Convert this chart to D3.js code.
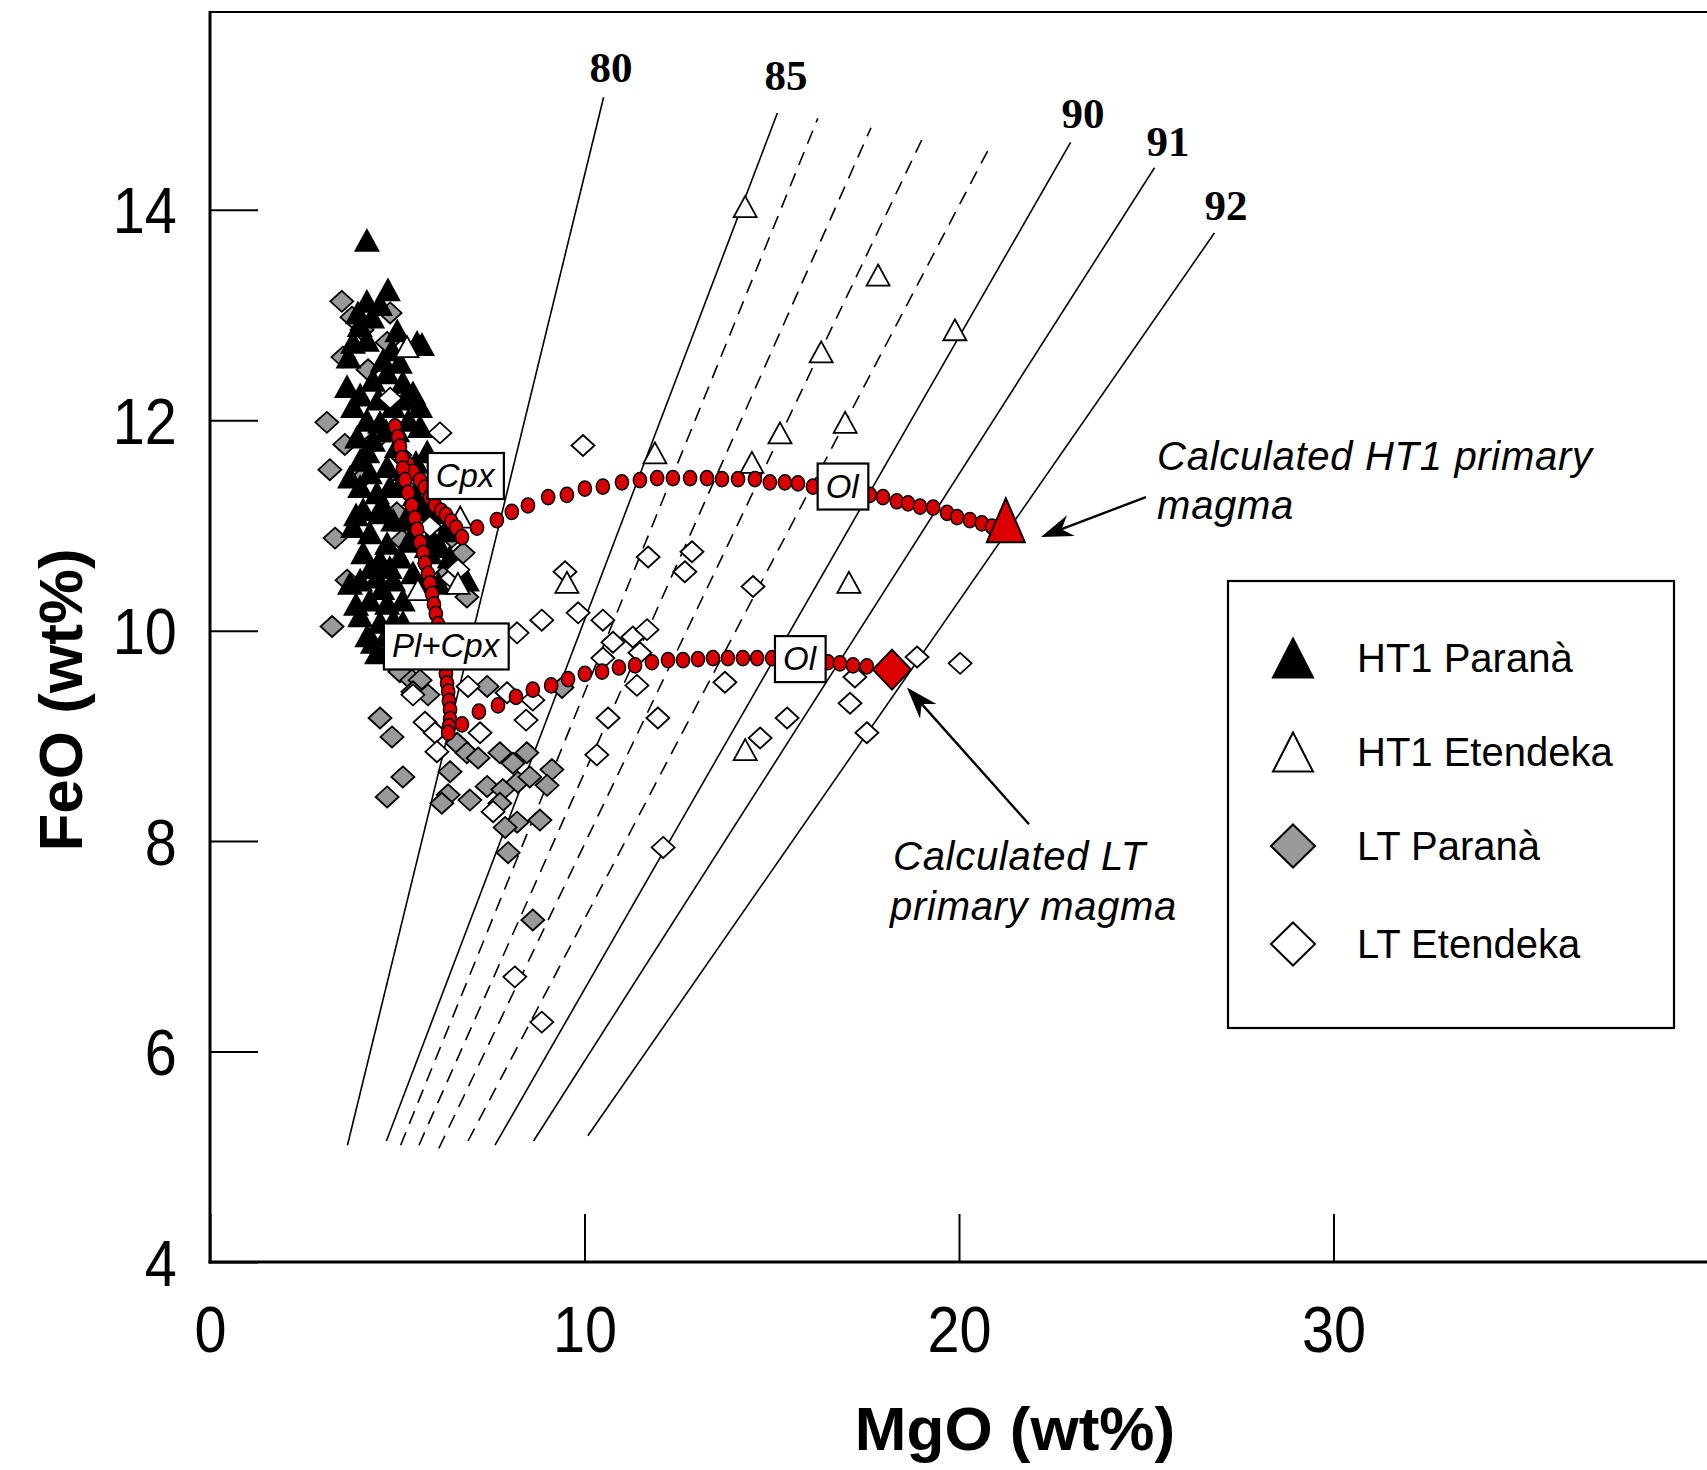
<!DOCTYPE html>
<html>
<head>
<meta charset="utf-8">
<script src="https://cdn.jsdelivr.net/npm/d3@7"></script>
<style>
	body { margin: 0; background: #fff; }
	svg { display: block; }
	text { font-family: "Liberation Sans", Arial, sans-serif; fill: #000; }
</style>
</head>
<body>
<svg id="chart" width="1707" height="1470"></svg>
<script>
'use strict';

var xTicks = [0, 10, 20, 30];
var yTicks = [4, 6, 8, 10, 12, 14];
var legendLabels = ["HT1 Paranà", "HT1 Etendeka", "LT Paranà", "LT Etendeka"];

// Fo isopleths: [label, MgO start, FeO start, MgO end, FeO end, dashed]
var foLines = [
	["80", 3.67, 5.11, 10.51, 15.07, false],
	["85", 4.71, 5.15, 15.15, 14.92, false],
	["", 5.09, 5.11, 16.23, 14.87, true],
	["", 5.58, 5.11, 17.65, 14.78, true],
	["", 6.11, 5.08, 19.04, 14.69, true],
	["", 6.89, 5.15, 20.84, 14.61, true],
	["90", 7.61, 5.11, 22.98, 14.64, false],
	["91", 8.64, 5.15, 25.22, 14.40, false],
	["92", 10.09, 5.20, 26.82, 13.78, false]
];
// label anchor (MgO, FeO of baseline centre)
var foLabels = [
	["80", 10.71, 15.21],
	["85", 15.38, 15.14],
	["90", 23.31, 14.78],
	["91", 25.58, 14.51],
	["92", 27.13, 13.90]
];

var ht1Parana = [
	[4.19,13.71],[4.75,13.24],[4.19,13.13],[4.54,13.10],[4.33,12.98],[3.95,13.02],[3.82,12.74],[4.19,12.76],
	[4.86,12.67],[5.53,12.74],[5.66,12.72],[5.07,12.55],[4.62,12.57],[3.66,12.32],[4.01,12.24],[4.35,12.38],
	[4.73,12.45],[5.15,12.36],[5.42,12.26],[5.61,12.13],[3.82,12.13],[4.19,12.00],[4.54,11.98],[4.89,12.13],
	[3.93,11.84],[4.35,11.81],[5.61,11.94],[4.01,11.62],[4.27,11.50],[4.73,11.56],[4.01,11.37],[4.46,11.31],
	[4.81,11.37],[4.09,11.15],[4.54,11.12],[4.89,11.05],[3.82,10.99],[4.27,10.93],[4.73,10.83],[5.87,11.05],
	[5.79,10.80],[4.09,10.74],[4.54,10.67],[5.07,10.70],[4.01,10.48],[4.46,10.51],[4.89,10.48],[5.42,10.55],
	[4.27,10.29],[4.73,10.26],[5.15,10.29],[4.01,10.14],[4.54,10.08],[4.35,9.89],[5.15,10.08],[6.86,10.48],
	[4.46,9.79],[3.74,10.45],[6.06,11.12],[6.14,10.80],[5.87,10.74],[3.74,11.46],[4.99,11.75],[5.21,11.53],
	[5.47,11.29],[5.21,11.05],[5.30,12.00],[5.00,11.90],[5.80,11.70],[5.50,11.60],[4.20,11.70],[3.90,11.10],
	[4.60,11.20],[5.10,11.40],[5.70,11.15],[6.30,10.95],[5.50,10.90],[4.30,10.60],[4.80,10.60],[5.60,10.40],
	[6.10,10.45],[4.60,10.40],[3.90,10.25],[4.90,10.10],[4.20,9.95],[4.70,9.95],[5.90,10.90],[6.40,10.70],
	[5.00,12.85],[4.50,12.20],[5.20,12.20],[3.70,12.60],[4.00,12.90],[6.00,11.40],[5.30,10.85],[4.70,11.90]
];

var ht1Etendeka = [
	[14.29,14.03],[17.84,13.38],[19.89,12.86],[16.32,12.65],[15.22,11.88],[16.96,11.98],[14.47,11.60],
	[11.88,11.69],[17.06,10.46],[9.53,10.46],[14.29,8.87],[5.26,12.70],[6.68,11.08],[6.62,10.45],[5.55,10.39]
];

var ltParana = [
	[3.52,13.13],[3.79,12.98],[4.81,13.02],[3.55,12.60],[4.73,12.74],[4.06,12.86],[4.22,12.48],[3.12,11.98],
	[3.60,11.77],[3.20,11.53],[4.41,11.81],[4.99,11.12],[5.13,10.86],[3.34,10.88],[3.66,10.48],[3.26,10.04],
	[6.76,10.74],[6.46,10.89],[6.22,10.51],[6.86,10.32],[4.09,11.46],[5.34,11.32],[5.07,11.67],[5.07,9.61],
	[5.39,9.53],[5.61,9.53],[5.42,9.42],[5.82,9.39],[4.54,9.17],[4.86,8.99],[7.40,9.47],[5.15,8.61],
	[4.73,8.42],[6.60,8.93],[6.86,8.84],[6.41,8.66],[7.16,8.79],[7.74,8.84],[8.09,8.74],[8.46,8.84],
	[6.36,8.44],[6.94,8.39],[7.40,8.52],[7.82,8.49],[8.22,8.56],[8.54,8.61],[9.13,8.68],[9.00,8.53],
	[7.74,8.36],[8.20,8.18],[8.81,8.20],[7.96,7.89],[6.19,8.36],[9.40,9.46],[8.62,7.25],[7.88,8.13]
];

var ltEtendeka = [
	[6.14,11.88],[4.81,12.21],[9.96,11.76],[11.70,10.70],[12.87,10.75],[12.68,10.56],[14.50,10.42],[9.48,10.56],
	[8.20,9.98],[8.86,10.10],[9.83,10.17],[10.49,10.10],[10.76,9.89],[11.29,9.94],[11.67,10.01],[10.49,9.74],
	[11.48,9.79],[13.75,9.51],[11.40,9.48],[10.63,9.17],[11.96,9.17],[8.44,9.15],[15.41,9.17],[17.09,9.31],
	[17.22,9.56],[14.69,8.98],[17.54,9.03],[6.89,9.47],[7.21,9.03],[7.93,9.41],[8.62,9.34],[10.33,8.82],
	[18.88,9.75],[20.03,9.69],[12.10,7.94],[8.14,6.71],[8.86,6.28],[5.74,9.13],[6.01,9.03],[6.06,8.85],
	[5.42,9.39],[7.56,8.28],[6.46,10.50],[5.87,10.99],[6.62,10.58]
];

// calculated liquid lines of descent (one dot per step)
var ht1Path = [
	[4.94,11.94],[5.02,11.84],[5.07,11.75],[5.13,11.65],[5.29,11.58],[5.42,11.51],[5.61,11.43],[5.74,11.36],
	[5.87,11.27],[6.01,11.19],[6.17,11.14],[6.30,11.10],[6.44,11.04],[6.57,10.98],[6.73,10.89],
	[7.13,10.98],[7.66,11.05],[8.06,11.13],[8.49,11.19],[9.03,11.27],[9.53,11.29],[10.01,11.35],[10.49,11.37],
	[11.00,11.41],[11.48,11.43],[11.94,11.45],[12.36,11.45],[12.82,11.45],[13.27,11.45],[13.67,11.44],
	[14.10,11.44],[14.55,11.44],[14.95,11.41],[15.35,11.41],[15.70,11.40],[16.10,11.37],[16.50,11.34],
	[16.90,11.32],[17.28,11.30],[17.62,11.29],[17.97,11.27],[18.34,11.23],[18.64,11.21],[18.96,11.18],
	[19.31,11.17],[19.68,11.12],[19.95,11.08],[20.29,11.05],[20.61,11.02],[20.88,10.99]
];
var ltPath = [
	[4.94,11.94],[5.02,11.84],[5.07,11.75],[5.13,11.64],[5.15,11.54],[5.21,11.43],[5.29,11.31],[5.39,11.19],
	[5.47,11.07],[5.53,10.96],[5.61,10.84],[5.69,10.74],[5.74,10.64],[5.82,10.54],[5.87,10.45],[5.93,10.35],
	[5.98,10.25],[6.03,10.16],[6.09,10.06],[6.14,9.97],[6.19,9.87],[6.25,9.78],[6.28,9.68],[6.30,9.59],
	[6.33,9.50],[6.36,9.42],[6.38,9.33],[6.41,9.25],[6.41,9.16],[6.38,9.09],[6.36,9.03],
	[6.73,9.11],[7.18,9.23],[7.69,9.29],[8.17,9.37],[8.62,9.44],[9.11,9.48],[9.56,9.54],[10.01,9.59],
	[10.47,9.61],[10.92,9.65],[11.35,9.67],[11.80,9.70],[12.23,9.72],[12.63,9.72],[13.03,9.73],[13.43,9.74],
	[13.83,9.74],[14.23,9.74],[14.61,9.74],[15.01,9.74],[15.38,9.73],[15.75,9.72],[16.13,9.71],[16.50,9.70],
	[16.82,9.69],[17.17,9.67],[17.54,9.66]
];
var ht1Primary = [21.25, 11.05];
var ltPrimary = [18.21, 9.63];

// phase boxes: [text, MgO, FeO] (box centre)
var phaseLabels = [
	["Cpx", 6.81, 11.47],
	["Pl+Cpx", 6.29, 9.85],
	["Ol", 16.88, 11.37],
	["Ol", 15.74, 9.73]
];

// annotations: lines of text [text, MgO, FeO(baseline)], arrows [MgO tail, FeO tail, MgO tip, FeO tip]
var notes = [
	["Calculated HT1 primary", 25.29, 11.53],
	["magma", 25.29, 11.06],
	["Calculated LT", 18.24, 7.73],
	["primary magma", 18.16, 7.25]
];
var arrows = [
	[24.99, 11.27, 22.19, 10.89],
	[21.87, 8.16, 18.61, 9.46]
];

(function(){
	var W = 1707, H = 1470;
	var margin = {top: 12, right: 0, bottom: 208, left: 210};
	var svg = d3.select("#chart");

	var x = d3.scaleLinear().domain([0, 40]).range([margin.left, margin.left + 1498]);
	var y = d3.scaleLinear().domain([4, 15.88]).range([H - margin.bottom, margin.top]);

	function triangle(cx, cy, w, h){
		return "M" + cx + "," + (cy - h / 2) + "L" + (cx + w / 2) + "," + (cy + h / 2) +
			"L" + (cx - w / 2) + "," + (cy + h / 2) + "Z";
	}
	function diamond(cx, cy, w, h){
		return "M" + cx + "," + (cy - h / 2) + "L" + (cx + w / 2) + "," + cy +
			"L" + cx + "," + (cy + h / 2) + "L" + (cx - w / 2) + "," + cy + "Z";
	}

	// Fo isopleths
	svg.append("g").selectAll("line")
		.data(foLines)
	.enter().append("line")
		.attr("x1", function(d){ return x(d[1]); })
		.attr("y1", function(d){ return y(d[2]); })
		.attr("x2", function(d){ return x(d[3]); })
		.attr("y2", function(d){ return y(d[4]); })
		.attr("stroke", "#000")
		.attr("stroke-width", 1.6)
		.attr("stroke-dasharray", function(d){ return d[5] ? "14,9" : null; });

	svg.append("g").selectAll("text")
		.data(foLabels)
	.enter().append("text")
		.attr("x", function(d){ return x(d[1]); })
		.attr("y", function(d){ return y(d[2]); })
		.attr("text-anchor", "middle")
		.style("font-family", "'Liberation Serif', 'Times New Roman', serif")
		.style("font-weight", "bold")
		.style("font-size", "43px")
		.text(function(d){ return d[0]; });

	// scatter
	var sym = {w: 23, h: 21};
	function drawSet(data, shape, fill){
		svg.append("g").selectAll("path")
			.data(data)
		.enter().append("path")
			.attr("d", function(d){ return shape(x(d[0]), y(d[1]), sym.w, sym.h); })
			.attr("fill", fill)
			.attr("stroke", "#000")
			.attr("stroke-width", 1.8)
			.attr("stroke-linejoin", "miter");
	}
	drawSet(ltParana, diamond, "#999999");
	drawSet(ht1Parana, triangle, "#000");
	drawSet(ltEtendeka, diamond, "#fff");
	drawSet(ht1Etendeka, triangle, "#fff");

	// model paths
	[ht1Path, ltPath].forEach(function(path){
		svg.append("g").selectAll("ellipse")
			.data(path)
		.enter().append("ellipse")
			.attr("cx", function(d){ return x(d[0]); })
			.attr("cy", function(d){ return y(d[1]); })
			.attr("rx", 6.6)
			.attr("ry", 7.6)
			.attr("fill", "#d80000")
			.attr("stroke", "#000")
			.attr("stroke-width", 1.5);
	});

	// phase boxes
	var boxes = svg.append("g").selectAll("g")
		.data(phaseLabels)
	.enter().append("g")
		.attr("transform", function(d){ return "translate(" + x(d[1]) + "," + y(d[2]) + ")"; });
	boxes.append("text")
		.attr("text-anchor", "middle")
		.attr("y", 11)
		.style("font-style", "italic")
		.style("font-size", "33px")
		.text(function(d){ return d[0]; });
	boxes.each(function(){
		var g = d3.select(this);
		var bb = g.select("text").node().getBBox();
		g.insert("rect", "text")
			.attr("x", bb.x - 8)
			.attr("y", -23)
			.attr("width", bb.width + 16)
			.attr("height", 46)
			.attr("fill", "#fff")
			.attr("stroke", "#000")
			.attr("stroke-width", 2.2);
	});

	// primary magmas
	svg.append("path")
		.attr("d", triangle(x(ht1Primary[0]), y(ht1Primary[1]), 38, 44))
		.attr("fill", "#dd0000")
		.attr("stroke", "#000")
		.attr("stroke-width", 2);
	svg.append("path")
		.attr("d", diamond(x(ltPrimary[0]), y(ltPrimary[1]), 38, 40))
		.attr("fill", "#dd0000")
		.attr("stroke", "#000")
		.attr("stroke-width", 2);

	// annotations
	svg.append("g").selectAll("text")
		.data(notes)
	.enter().append("text")
		.attr("x", function(d){ return x(d[1]); })
		.attr("y", function(d){ return y(d[2]); })
		.style("font-style", "italic")
		.style("font-size", "40px")
		.style("letter-spacing", "0.7px")
		.text(function(d){ return d[0]; });

	var ag = svg.append("g");
	arrows.forEach(function(a){
		var x1 = x(a[0]), y1 = y(a[1]), x2 = x(a[2]), y2 = y(a[3]);
		var ang = Math.atan2(y2 - y1, x2 - x1);
		var len = 32, half = 11, notch = 22;
		var bx = x2 - len * Math.cos(ang), by = y2 - len * Math.sin(ang);
		var nx = x2 - notch * Math.cos(ang), ny = y2 - notch * Math.sin(ang);
		var px = -Math.sin(ang), py = Math.cos(ang);
		ag.append("line")
			.attr("x1", x1).attr("y1", y1).attr("x2", nx).attr("y2", ny)
			.attr("stroke", "#000").attr("stroke-width", 2.4);
		ag.append("path")
			.attr("d", "M" + x2 + "," + y2 +
				"L" + (bx + px * half) + "," + (by + py * half) +
				"L" + nx + "," + ny +
				"L" + (bx - px * half) + "," + (by - py * half) + "Z")
			.attr("fill", "#000");
	});

	// axes
	var yBottom = y(4);
	var xAxis = d3.axisBottom(x).tickValues(xTicks).tickSize(-48).tickPadding(45)
		.tickFormat(d3.format("d"));
	var gx = svg.append("g")
		.attr("transform", "translate(0," + yBottom + ")")
		.call(xAxis);
	gx.select(".domain").remove();
	gx.selectAll(".tick line").attr("stroke", "#000").attr("stroke-width", 2);
	gx.selectAll(".tick text")
		.attr("fill", "#000")
		.attr("transform", "scale(0.9,1)")
		.style("font-size", "64px")
		.style("font-family", "'Liberation Sans', Arial, sans-serif");

	var yAxis = d3.axisLeft(y).tickValues(yTicks).tickSize(-48).tickPadding(37)
		.tickFormat(d3.format("d"));
	var gy = svg.append("g")
		.attr("transform", "translate(" + margin.left + ",0)")
		.call(yAxis);
	gy.select(".domain").remove();
	gy.selectAll(".tick line").attr("stroke", "#000").attr("stroke-width", 2);
	gy.selectAll(".tick text")
		.attr("fill", "#000")
		.attr("dy", "0.36em")
		.attr("transform", "scale(0.9,1)")
		.style("font-size", "64px")
		.style("font-family", "'Liberation Sans', Arial, sans-serif");

	// frame
	svg.append("line")
		.attr("x1", margin.left).attr("y1", margin.top).attr("x2", W).attr("y2", margin.top)
		.attr("stroke", "#000").attr("stroke-width", 2);
	svg.append("line")
		.attr("x1", margin.left).attr("y1", margin.top - 1).attr("x2", margin.left).attr("y2", yBottom + 1.5)
		.attr("stroke", "#000").attr("stroke-width", 3);
	svg.append("line")
		.attr("x1", margin.left - 1.5).attr("y1", yBottom).attr("x2", W).attr("y2", yBottom)
		.attr("stroke", "#000").attr("stroke-width", 3.2);

	// axis titles
	svg.append("text")
		.attr("transform", "translate(82," + 700 + ") rotate(-90)")
		.attr("text-anchor", "middle")
		.style("font-weight", "bold")
		.style("font-size", "62px")
		.text("FeO (wt%)");
	svg.append("text")
		.attr("x", 1015)
		.attr("y", 1450)
		.attr("text-anchor", "middle")
		.style("font-weight", "bold")
		.style("font-size", "62px")
		.text("MgO (wt%)");

	// legend
	var lg = svg.append("g").attr("transform", "translate(1228,581)");
	lg.append("rect")
		.attr("width", 446)
		.attr("height", 447)
		.attr("fill", "#fff")
		.attr("stroke", "#000")
		.attr("stroke-width", 2.2);
	var legendShapes = [
		{shape: triangle, fill: "#000", w: 40, h: 39},
		{shape: triangle, fill: "#fff", w: 40, h: 39},
		{shape: diamond, fill: "#999999", w: 44, h: 43},
		{shape: diamond, fill: "#fff", w: 44, h: 43}
	];
	var rowY = [77, 171, 265, 363];
	var items = lg.selectAll("g.item")
		.data(legendLabels)
	.enter().append("g")
		.attr("class", "item")
		.attr("transform", function(d, i){ return "translate(0," + rowY[i] + ")"; });
	items.append("path")
		.attr("d", function(d, i){
			var s = legendShapes[i];
			return s.shape(65, 0, s.w, s.h);
		})
		.attr("fill", function(d, i){ return legendShapes[i].fill; })
		.attr("stroke", "#000")
		.attr("stroke-width", 2);
	items.append("text")
		.attr("x", 129)
		.attr("y", 14)
		.style("font-size", "40px")
		.text(function(d){ return d; });
}());
</script>
</body>
</html>
